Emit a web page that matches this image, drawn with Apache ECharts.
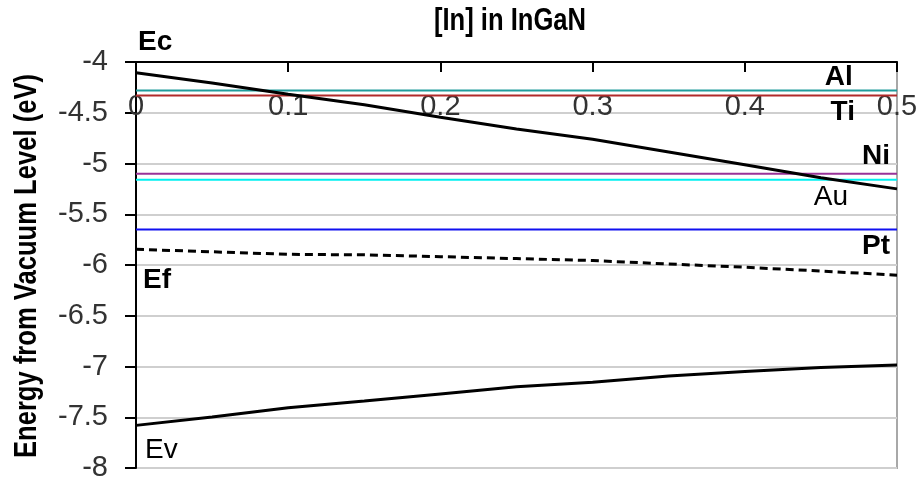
<!DOCTYPE html>
<html>
<head>
<meta charset="utf-8">
<script src="https://cdn.jsdelivr.net/npm/echarts@6/dist/echarts.min.js"></script>
<style>html,body{margin:0;padding:0;background:#fff;}#chart{width:921px;height:479px;}</style>
</head>
<body>
<div id="chart"></div>
<script>
// ---- data ----
const chartTitle = '[In] in InGaN';
const yAxisTitle = 'Energy from Vacuum Level (eV)';
const inContent = [0, 0.05, 0.1, 0.15, 0.2, 0.25, 0.3, 0.35, 0.4, 0.45, 0.5];
const ecValues = [-4.105, -4.206, -4.318, -4.421, -4.544, -4.66, -4.761, -4.886, -5.012, -5.141, -5.25];
const efValues = [-5.845, -5.87, -5.895, -5.9, -5.918, -5.937, -5.956, -5.99, -6.022, -6.06, -6.1];
const evValues = [-7.58, -7.498, -7.406, -7.34, -7.27, -7.2, -7.155, -7.094, -7.05, -7.01, -6.985];
const metalNames = ['Al', 'Ti', 'Ni', 'Au', 'Pt'];
const metalLevels = [-4.28, -4.33, -5.1, -5.16, -5.65];
const metalColors = ['#1f9c9c', '#b02a2a', '#993399', '#00f0f0', '#1010f0'];
// annotation texts and their anchor points in data units [x, y]
const noteTexts = ['Ec', 'Al', 'Ti', 'Ni', 'Au', 'Pt', 'Ef', 'Ev'];
const noteAnchors = [[0.0013, -3.808], [0.471, -4.153], [0.4724, -4.498], [0.4954, -4.931],
                     [0.4678, -5.33], [0.4954, -5.815], [0.0046, -6.15], [0.0059, -7.823]];
const noteAlign = ['left', 'right', 'right', 'right', 'right', 'right', 'left', 'left'];
const noteBold = [true, true, true, true, false, true, true, false];

const chart = echarts.init(document.getElementById('chart'), null, {renderer: 'canvas'});

const pairs = (ys) => inContent.map((x, i) => [x, ys[i]]);
const series = [];
metalNames.forEach((n, i) => {
  series.push({
    name: n, type: 'line', symbol: 'none', silent: true, z: 2,
    data: [[0, metalLevels[i]], [0.5, metalLevels[i]]],
    lineStyle: {color: metalColors[i], width: 2}
  });
});
series.push({name: 'Ec', type: 'line', symbol: 'none', z: 5, data: pairs(ecValues),
  lineStyle: {color: '#000', width: 3}});
series.push({name: 'Ef', type: 'line', symbol: 'none', z: 5, data: pairs(efValues),
  lineStyle: {color: '#000', width: 3, type: [8, 5]}});
series.push({name: 'Ev', type: 'line', symbol: 'none', z: 5, data: pairs(evValues),
  lineStyle: {color: '#000', width: 3}});

const labelFont = 'Liberation Sans';
chart.setOption({
  animation: false,
  backgroundColor: '#fff',
  grid: {left: 136, right: 24, top: 62, bottom: 11, show: true, borderColor: '#a8a8a8', borderWidth: 2,
    outerBoundsMode: 'none', containLabel: false},
  xAxis: {
    type: 'value', min: 0, max: 0.5, interval: 0.1, position: 'top',
    axisLine: {onZero: false, lineStyle: {color: '#000', width: 2}},
    axisTick: {inside: true, length: 10, lineStyle: {color: '#000', width: 2}},
    axisLabel: {inside: true, margin: 30, fontSize: 29, color: '#333', fontFamily: labelFont},
    splitLine: {show: false}
  },
  yAxis: {
    type: 'value', min: -8, max: -4, interval: 0.5,
    axisLine: {onZero: false, lineStyle: {color: '#000', width: 2}},
    axisTick: {inside: false, length: 11, lineStyle: {color: '#000', width: 2}},
    axisLabel: {margin: 28, fontSize: 29, color: '#333', fontFamily: labelFont},
    splitLine: {show: true, lineStyle: {color: '#cfcfcf', width: 2}}
  },
  series: series
});

const narrowBold = "bold 32px 'Liberation Sans'";
const graphics = [{
  type: 'text', x: 510, y: 21, z: 10, scaleX: 0.8,
  style: {text: chartTitle, align: 'center', verticalAlign: 'middle', fill: '#000', font: narrowBold}
}, {
  type: 'text', x: 27, y: 266, z: 10, scaleX: 0.8, rotation: Math.PI / 2,
  style: {text: yAxisTitle, align: 'center', verticalAlign: 'middle', fill: '#000', font: narrowBold}
}];
noteTexts.forEach((t, i) => {
  const p = chart.convertToPixel({gridIndex: 0}, noteAnchors[i]);
  graphics.push({
    type: 'text', x: p[0], y: p[1], z: 10,
    style: {text: t, align: noteAlign[i], verticalAlign: 'middle', fill: '#000',
      font: (noteBold[i] ? 'bold ' : '') + "28px 'Liberation Sans'"}
  });
});
chart.setOption({graphic: graphics});
</script>
</body>
</html>
